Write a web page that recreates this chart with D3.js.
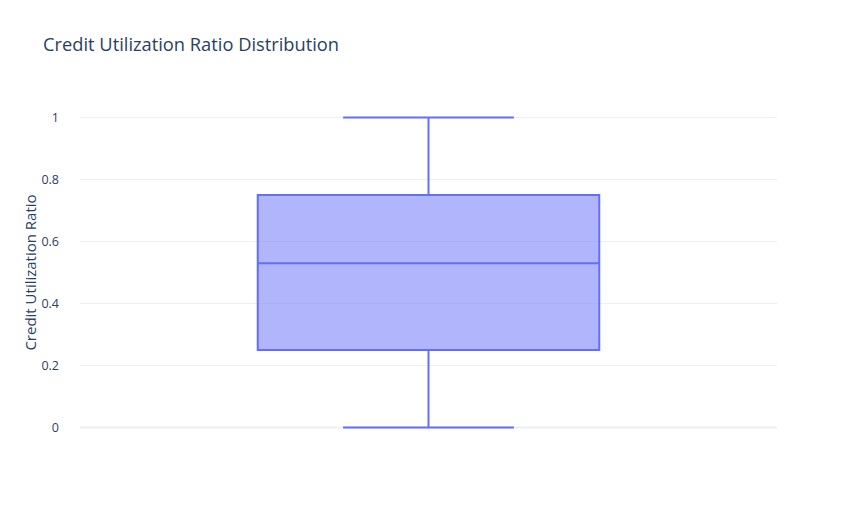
<!DOCTYPE html>
<html>
<head>
<meta charset="utf-8">
<script src="https://cdn.jsdelivr.net/npm/d3@7"></script>
<style>
  body { margin: 0; background: #fff; }
  text { font-family: "Open Sans", Arial, sans-serif; }
</style>
</head>
<body>
<svg id="chart" width="857" height="525"></svg>
<script>
// box summary values
var categories = ["Credit Utilization Ratio"]
var lowerFence = [0]
var q1 = [0.25]
var median = [0.53]
var q3 = [0.75]
var upperFence = [1]
var yTicks = [0, 0.2, 0.4, 0.6, 0.8, 1]

var width = 857, height = 525
var margin = {top: 100, right: 80, bottom: 80, left: 80}
var svg = d3.select("#chart")

var x = d3.scaleLinear().domain([-0.5, 0.5]).range([margin.left, width - margin.right])
var y = d3.scaleLinear().domain([-0.0565, 1.0565]).range([height - margin.bottom, margin.top])

var boxHalf = 0.245
var capHalf = boxHalf / 2

// gridlines
svg.append("g")
  .selectAll("line")
  .data(yTicks)
  .enter().append("line")
    .attr("x1", margin.left)
    .attr("x2", width - margin.right)
    .attr("y1", function(d){ return y(d) })
    .attr("y2", function(d){ return y(d) })
    .attr("stroke", "#ebf0f8")
    .attr("stroke-width", function(d){ return d === 0 ? 2 : 1 })

// y axis labels
var yAxis = d3.axisLeft(y).tickValues(yTicks).tickSize(0).tickPadding(20)
  .tickFormat(function(d){ return d3.format("~g")(d) })
var ga = svg.append("g")
  .attr("transform", "translate(" + (margin.left - 1) + ",0)")
  .call(yAxis)
ga.select(".domain").remove()
ga.selectAll("text")
  .attr("fill", "#2a3f5f")
  .style("font-size", "12.5px")
  .style("font-family", "'Open Sans', Arial, sans-serif")

// box
var g = svg.append("g")
categories.forEach(function(c, i){
  var cx = x(i)
  // whiskers
  g.append("line")
    .attr("x1", cx).attr("x2", cx)
    .attr("y1", y(upperFence[i])).attr("y2", y(q3[i]))
    .attr("stroke", "#636efa").attr("stroke-width", 2)
  g.append("line")
    .attr("x1", cx).attr("x2", cx)
    .attr("y1", y(q1[i])).attr("y2", y(lowerFence[i]))
    .attr("stroke", "#636efa").attr("stroke-width", 2)
  ;[upperFence[i], lowerFence[i]].forEach(function(v){
    g.append("line")
      .attr("x1", x(i - capHalf)).attr("x2", x(i + capHalf))
      .attr("y1", y(v)).attr("y2", y(v))
      .attr("stroke", "#636efa").attr("stroke-width", 2)
  })
  g.append("rect")
    .attr("x", x(i - boxHalf))
    .attr("width", x(i + boxHalf) - x(i - boxHalf))
    .attr("y", y(q3[i]))
    .attr("height", y(q1[i]) - y(q3[i]))
    .attr("fill", "rgba(99,110,250,0.5)")
    .attr("stroke", "#636efa").attr("stroke-width", 2)
  g.append("line")
    .attr("x1", x(i - boxHalf)).attr("x2", x(i + boxHalf))
    .attr("y1", y(median[i])).attr("y2", y(median[i]))
    .attr("stroke", "#636efa").attr("stroke-width", 2)
})

// title
svg.append("text")
  .attr("x", 43).attr("y", 51)
  .attr("fill", "#2a3f5f")
  .style("font-size", "18.3px")
  .text("Credit Utilization Ratio Distribution")

// y axis title
svg.append("text")
  .attr("transform", "translate(36," + ((margin.top + height - margin.bottom) / 2) + ") rotate(-90)")
  .attr("text-anchor", "middle")
  .attr("fill", "#2a3f5f")
  .style("font-size", "15px")
  .text("Credit Utilization Ratio")
</script>
</body>
</html>
